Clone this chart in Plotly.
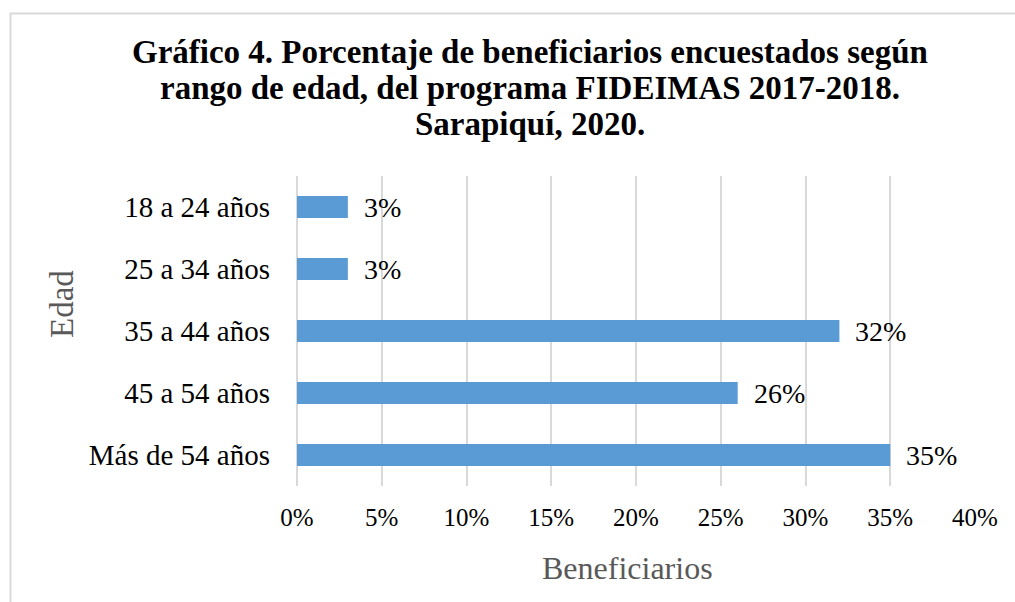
import plotly.graph_objects as go

categories = ["18 a 24 años", "25 a 34 años", "35 a 44 años", "45 a 54 años", "Más de 54 años"]
values = [3, 3, 32, 26, 35]
tick_vals = [0, 5, 10, 15, 20, 25, 30, 35, 40]
tick_text = [f"{v}%" for v in tick_vals]

title_lines = ["Gráfico 4. Porcentaje de beneficiarios encuestados según",
               "rango de edad, del programa FIDEIMAS 2017-2018.",
               "Sarapiquí, 2020."]
title_y = [52, 88, 124]

W, H = 1015, 602
L, R, T, B = 297, 40, 176, 116
pw, ph = W - L - R, H - T - B

def px(x):
    return (x - L) / pw

def py(y):
    return (H - B - y) / ph

font = "Liberation Serif, Times New Roman, serif"

fig = go.Figure(go.Bar(
    x=values, y=categories, orientation="h",
    marker=dict(color="#5B9BD5", line=dict(width=0)),
    width=0.355,
))

for c, v in zip(categories, values):
    fig.add_annotation(x=v, y=c, xref="x", yref="y", text=f"{v}%",
                       showarrow=False, xanchor="left", yanchor="middle",
                       xshift=14, font=dict(family=font, size=28, color="#000000"))

for line, yy in zip(title_lines, title_y):
    fig.add_annotation(x=px(530), y=py(yy), xref="paper", yref="paper", text=f"<b>{line}</b>",
                       showarrow=False, xanchor="center", yanchor="middle",
                       font=dict(family=font, size=33, color="#000000"))

fig.add_annotation(x=px(627), y=py(568), xref="paper", yref="paper", text="Beneficiarios",
                   showarrow=False, xanchor="center", yanchor="middle",
                   font=dict(family=font, size=32, color="#595959"))
fig.add_annotation(x=px(62), y=py(304), xref="paper", yref="paper", text="Edad",
                   showarrow=False, xanchor="center", yanchor="middle", textangle=-90,
                   font=dict(family=font, size=33, color="#595959"))

fig.add_shape(type="rect", xref="paper", yref="paper",
              x0=px(10.5), y0=py(700), x1=px(1100), y1=py(13.5),
              line=dict(color="#D9D9D9", width=2), fillcolor="rgba(0,0,0,0)", layer="below")

fig.update_layout(
    width=W, height=H,
    margin=dict(l=L, r=R, t=T, b=B),
    paper_bgcolor="white", plot_bgcolor="white",
    showlegend=False,
    xaxis=dict(range=[0, 40], tickvals=tick_vals, ticktext=tick_text,
               showgrid=True, gridcolor="#D9D9D9", gridwidth=2,
               zeroline=True, zerolinecolor="#D9D9D9", zerolinewidth=2,
               showline=False, ticks="", ticklabelstandoff=14,
               tickfont=dict(family=font, size=25, color="#000000"), fixedrange=True),
    yaxis=dict(categoryorder="array", categoryarray=categories[::-1],
               showgrid=False, zeroline=False, showline=False, ticks="",
               ticklabelstandoff=26,
               tickfont=dict(family=font, size=29, color="#000000"), fixedrange=True),
)

fig.write_html("out.html", config={"displayModeBar": False},
               post_script="document.body.style.margin='0px';document.body.style.overflow='hidden';")
